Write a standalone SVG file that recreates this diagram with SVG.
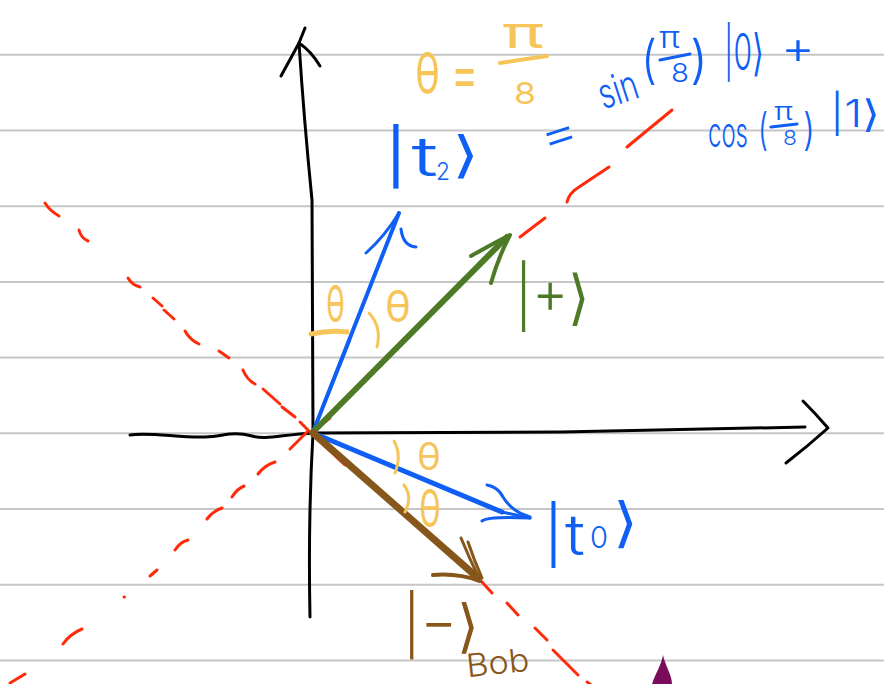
<svg xmlns="http://www.w3.org/2000/svg" width="884" height="684" viewBox="0 0 884 684">
<style>
.rule{stroke:#c6c6c6;stroke-width:2;fill:none}
.ink{fill:none;stroke-linecap:round;stroke-linejoin:round}
.k{stroke:#000;stroke-width:3}
.r{stroke:#ff2a0a;stroke-width:3}
.b{stroke:#0f5ff5}
.g{stroke:#4c7a26}
.br{stroke:#86561a}
.y{stroke:#f6c55a}
.t{font-family:Inter,"DejaVu Sans",sans-serif;font-weight:300}
.tb{fill:#0f5ff5}
.ty{fill:#f6c55a;font-weight:400}
.tg{fill:#4c7a26}
.tbr{fill:#86561a}
</style>
<rect width="884" height="684" fill="#ffffff"/>
<g id="rules">
<line class="rule" x1="0" y1="54.8" x2="884" y2="54.8"/>
<line class="rule" x1="0" y1="130.5" x2="884" y2="130.5"/>
<line class="rule" x1="0" y1="206.2" x2="884" y2="206.2"/>
<line class="rule" x1="0" y1="281.9" x2="884" y2="281.9"/>
<line class="rule" x1="0" y1="357.6" x2="884" y2="357.6"/>
<line class="rule" x1="0" y1="433.3" x2="884" y2="433.3"/>
<line class="rule" x1="0" y1="509" x2="884" y2="509"/>
<line class="rule" x1="0" y1="584.7" x2="884" y2="584.7"/>
<line class="rule" x1="0" y1="660.4" x2="884" y2="660.4"/>
</g>
<g id="axes" class="ink k">
<path d="M305,28 L299,43 Q304,120 312,200 L313,433 Q308,520 310,617"/>
<path d="M281,76 Q292,56 299,43 Q311,51 320,66"/>
<path d="M130,435 C150,432 180,438 205,437 C225,436 232,431 252,436 C265,440 280,435 313,433 L560,432 C640,430 720,429 805,427"/>
<path d="M803,401 Q815,413 828,428 Q808,446 786,463"/>
</g>
<g id="dashed-lines" class="ink r">
<path d="M10,683 L25,674"/>
<path d="M63,644 Q70,634 82,629"/>
<path d="M124,597 L124.5,597"/>
<path d="M150,576 L157,570"/>
<path d="M175,550 Q180,542 188,540"/>
<path d="M207,519 Q213,511 222,508"/>
<path d="M232,497 Q237,489 244,486"/>
<path d="M258,474 Q265,465 275,462"/>
<path d="M290,449 L307,432"/>
<path d="M312,432 L330,418"/>
<path d="M520,237 L545,218"/>
<path d="M567,202 Q569,193 579,187 L609,167"/>
<path d="M627,147 L672,110"/>
<path d="M45,203 Q50,211 59,216"/>
<path d="M79,230 Q81,238 88,241"/>
<path d="M128,278 Q132,285 140,287"/>
<path d="M153,298 L162,306"/>
<path d="M164,310 L174,319"/>
<path d="M185,331 Q190,340 199,344"/>
<path d="M219,351 L229,358"/>
<path d="M243,370 Q247,380 255,384"/>
<path d="M263,389 L280,404"/>
<path d="M282,407 L295,417"/>
<path d="M300,422 L316,438 L345,465"/>
<path d="M470,570 L482,582 L492,593"/>
<path d="M507,603 L518,615"/>
<path d="M535,628 L547,640"/>
<path d="M553,650 L578,675"/>
<path d="M587,682 L590,684"/>
</g>
<g id="vector-t2" class="ink b">
<path d="M313,432 L399,213" stroke-width="4"/>
<path d="M318,420 L350,340" stroke-width="2.5"/>
<path d="M366,253 Q385,236 399,213" stroke-width="3"/>
<path d="M401,229 Q403,246 416,247" stroke-width="3"/>
</g>
<g id="vector-plus" class="ink g">
<path d="M313,432 L507,237" stroke-width="6"/>
<path d="M471,256 Q492,244 510,235 Q498,258 491,283" stroke-width="4"/>
</g>
<g id="vector-t0" class="ink b">
<path d="M313,433 L502,512" stroke-width="5"/>
<path d="M502,512 L530,518" stroke-width="3"/>
<path d="M487,485 Q498,487 503,497 Q512,512 530,517" stroke-width="3"/>
<path d="M482,521 Q488,516 530,518" stroke-width="3"/>
</g>
<g id="vector-minus" class="ink br">
<path d="M313,433 L478,578" stroke-width="7"/>
<path d="M461,538 Q470,560 480,580" stroke-width="3"/>
<path d="M468,542 Q474,560 482,578" stroke-width="3"/>
<path d="M433,575 Q458,573 480,581" stroke-width="4"/>
</g>
<g id="angle-marks" class="ink y">
<path d="M311,334 Q330,330 347,332" stroke-width="5"/>
<path d="M369,313 Q382,327 377,347" stroke-width="3"/>
<path d="M394,441 Q402,455 395,473" stroke-width="3"/>
<path d="M404,485 Q413,497 405,512" stroke-width="3"/>
</g>
<g id="labels" class="t">
<text class="t ty" x="415" y="94" font-size="58" textLength="63" lengthAdjust="spacingAndGlyphs">θ =</text>
<text class="t ty" x="502" y="48" font-size="44" textLength="42" lengthAdjust="spacingAndGlyphs">π</text>
<path class="ink y" d="M500,63 L547,56" stroke-width="4"/>
<text class="t ty" x="514" y="104" font-size="30" textLength="22" lengthAdjust="spacingAndGlyphs">8</text>
<text class="t tb" x="382" y="176" font-size="54" textLength="56" lengthAdjust="spacingAndGlyphs">|t</text>
<text class="t tb" x="436" y="180" font-size="24" textLength="14" lengthAdjust="spacingAndGlyphs">2</text>
<text class="t tb" x="452" y="172" font-size="50" textLength="28" lengthAdjust="spacingAndGlyphs">⟩</text>
<text class="t tb" x="540" y="150" font-size="48" textLength="38" lengthAdjust="spacingAndGlyphs" transform="rotate(-18 558 135)">=</text>
<text class="t tb" x="598" y="104" font-size="42" textLength="40" lengthAdjust="spacingAndGlyphs" transform="rotate(-18 618 90)">sin</text>
<text class="t tb" x="641" y="78" font-size="52" textLength="16" lengthAdjust="spacingAndGlyphs">(</text>
<text class="t tb" x="659" y="48" font-size="30" textLength="21" lengthAdjust="spacingAndGlyphs">π</text>
<path class="ink b" d="M660,60 L690,54" stroke-width="3"/>
<text class="t tb" x="671" y="82" font-size="26" textLength="18" lengthAdjust="spacingAndGlyphs">8</text>
<text class="t tb" x="690" y="78" font-size="52" textLength="18" lengthAdjust="spacingAndGlyphs">)</text>
<text class="t tb" x="724" y="70" font-size="50" textLength="40" lengthAdjust="spacingAndGlyphs">|0⟩</text>
<text class="t tb" x="781" y="64" font-size="46" textLength="34" lengthAdjust="spacingAndGlyphs">+</text>
<text class="t tb" x="708" y="147" font-size="42" textLength="40" lengthAdjust="spacingAndGlyphs">cos</text>
<text class="t tb" x="758" y="145" font-size="44" textLength="10" lengthAdjust="spacingAndGlyphs">(</text>
<text class="t tb" x="774" y="120" font-size="24" textLength="19" lengthAdjust="spacingAndGlyphs">π</text>
<path class="ink b" d="M771,127 L797,124" stroke-width="3"/>
<text class="t tb" x="783" y="145" font-size="20" textLength="14" lengthAdjust="spacingAndGlyphs">8</text>
<text class="t tb" x="803" y="145" font-size="44" textLength="12" lengthAdjust="spacingAndGlyphs">)</text>
<text class="t tb" x="830" y="127" font-size="38" textLength="50" lengthAdjust="spacingAndGlyphs">|1⟩</text>
<text class="t tg" x="515" y="318" font-size="60" textLength="74" lengthAdjust="spacingAndGlyphs">|+⟩</text>
<text class="t ty" x="326" y="322" font-size="50" textLength="19" lengthAdjust="spacingAndGlyphs">θ</text>
<text class="t ty" x="385" y="322" font-size="44" textLength="26" lengthAdjust="spacingAndGlyphs">θ</text>
<text class="t ty" x="417" y="470" font-size="38" textLength="24" lengthAdjust="spacingAndGlyphs">θ</text>
<text class="t ty" x="419" y="527" font-size="52" textLength="22" lengthAdjust="spacingAndGlyphs">θ</text>
<text class="t tb" x="543" y="555" font-size="56" textLength="42" lengthAdjust="spacingAndGlyphs">|t</text>
<text class="t tb" x="590" y="548" font-size="30" textLength="18" lengthAdjust="spacingAndGlyphs">0</text>
<text class="t tb" x="613" y="541" font-size="54" textLength="25" lengthAdjust="spacingAndGlyphs">⟩</text>
<text class="t tbr" x="403" y="646" font-size="58" textLength="76" lengthAdjust="spacingAndGlyphs">|−⟩</text>
<text class="t tbr" x="466" y="674" font-size="32" textLength="63" lengthAdjust="spacingAndGlyphs" transform="rotate(-6 497 662)">Bob</text>
</g>
<path id="pen-tip" d="M663,655 C665,665 672,675 672,684 L652,684 C656,672 661,666 663,655 Z" fill="#7a0c5c"/>
</svg>
